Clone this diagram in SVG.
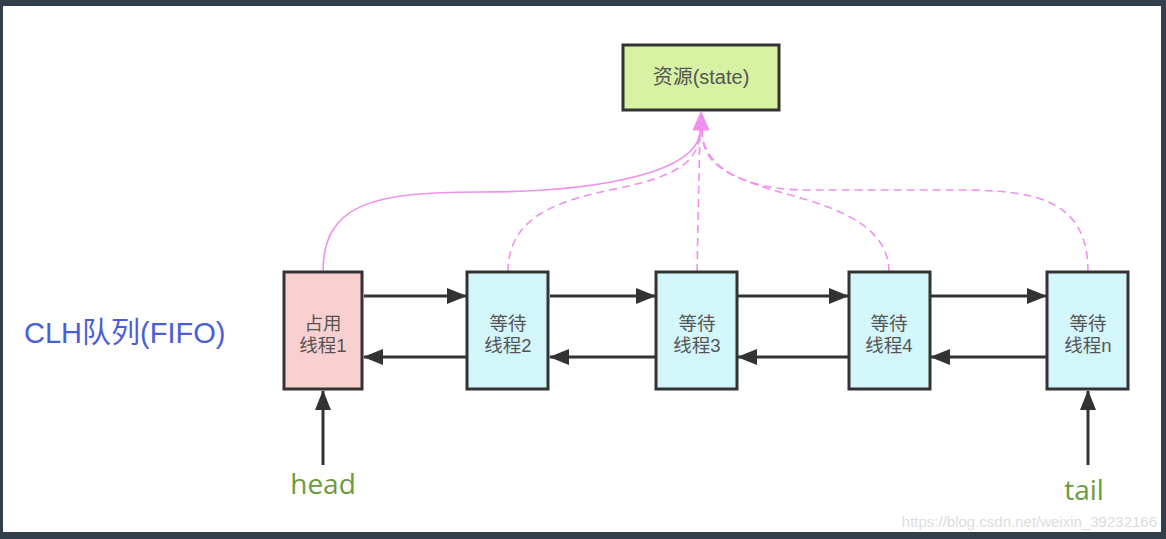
<svg xmlns="http://www.w3.org/2000/svg" width="1166" height="539" viewBox="0 0 1166 539">
<style>
.node rect{stroke:#333;stroke-width:3}
.t{font-family:"Liberation Sans","Noto Sans CJK SC",sans-serif;font-size:18.5px;fill:#555;text-anchor:middle}
.blk{stroke:#333;stroke-width:3;fill:none}
.pk{stroke:#f090ee;stroke-width:1.6;fill:none}
.dash{stroke-dasharray:8 5}
.ptr{stroke:#333;stroke-width:3;fill:none}
.lbl{font-family:"Open Sans","Liberation Sans",sans-serif;font-size:28px;fill:#6a9a3c;text-anchor:middle}
</style>
<defs>
<marker id="ah" markerUnits="userSpaceOnUse" markerWidth="20" markerHeight="16" refX="19" refY="8" orient="auto">
<path d="M0,0 L20,8 L0,16 Z" fill="#333"/>
</marker>
</defs>
<rect x="0" y="0" width="1166" height="539" fill="#323e4a"/>
<rect x="3" y="6" width="1158" height="526" fill="#ffffff"/>

<g id="connectors">
<path class="pk" d="M323,272 C323,205 370,192 480,192 C600,192 700,172 700,130"/>
<path class="pk dash" d="M508,272 C508,215 560,200 620,188 C680,175 700,160 700,130"/>
<path class="pk dash" d="M697,272 L700,130"/>
<path class="pk dash" d="M889,272 C889,212 800,200 760,186 C720,172 702,160 702,130"/>
<path class="pk dash" d="M1088,272 C1088,202 1040,190 960,190 L800,190 C740,188 702,165 702,130"/>
<path d="M701,112 L709,130 L693,130 Z" fill="#f090ee" stroke="#f090ee" stroke-width="1" stroke-linejoin="round"/>

<line class="blk" x1="364" y1="296" x2="466" y2="296" marker-end="url(#ah)"/>
<line class="blk" x1="466" y1="357" x2="364" y2="357" marker-end="url(#ah)"/>
<line class="blk" x1="550" y1="296" x2="655" y2="296" marker-end="url(#ah)"/>
<line class="blk" x1="655" y1="357" x2="550" y2="357" marker-end="url(#ah)"/>
<line class="blk" x1="738" y1="296" x2="848" y2="296" marker-end="url(#ah)"/>
<line class="blk" x1="848" y1="357" x2="738" y2="357" marker-end="url(#ah)"/>
<line class="blk" x1="931" y1="296" x2="1046" y2="296" marker-end="url(#ah)"/>
<line class="blk" x1="1046" y1="357" x2="931" y2="357" marker-end="url(#ah)"/>

<line class="ptr" x1="323" y1="465" x2="323" y2="391" marker-end="url(#ah)"/>
<line class="ptr" x1="1088" y1="465" x2="1088" y2="391" marker-end="url(#ah)"/>
</g>

<g id="state" class="node">
<rect x="623" y="45" width="156" height="65" fill="#d6f2a2"/>
<text class="t" x="701" y="84" style="font-size:20px">资源(state)</text>
</g>
<g id="n1" class="node">
<rect x="284" y="272" width="78" height="117" fill="#f9d0d0"/>
<text class="t" x="323" y="330">占用</text>
<text class="t" x="323" y="352">线程1</text>
</g>
<g id="n2" class="node">
<rect x="467" y="272" width="81" height="117" fill="#d3f6fb"/>
<text class="t" x="508" y="330">等待</text>
<text class="t" x="508" y="352">线程2</text>
</g>
<g id="n3" class="node">
<rect x="656" y="272" width="81" height="117" fill="#d3f6fb"/>
<text class="t" x="697" y="330">等待</text>
<text class="t" x="697" y="352">线程3</text>
</g>
<g id="n4" class="node">
<rect x="849" y="272" width="81" height="117" fill="#d3f6fb"/>
<text class="t" x="889" y="330">等待</text>
<text class="t" x="889" y="352">线程4</text>
</g>
<g id="nn" class="node">
<rect x="1047" y="272" width="81" height="117" fill="#d3f6fb"/>
<text class="t" x="1088" y="330">等待</text>
<text class="t" x="1088" y="352">线程n</text>
</g>

<text x="24" y="343" font-family="'Liberation Sans','Noto Sans CJK SC',sans-serif" font-size="29" fill="#4a5ed8">CLH队列(FIFO)</text>
<text class="lbl" x="323" y="494">head</text>
<text class="lbl" x="1084" y="500">tail</text>
<text x="1157" y="527" text-anchor="end" font-family="'Liberation Sans',sans-serif" font-size="15" fill="#dcdcdc">https://blog.csdn.net/weixin_39232166</text>
</svg>
